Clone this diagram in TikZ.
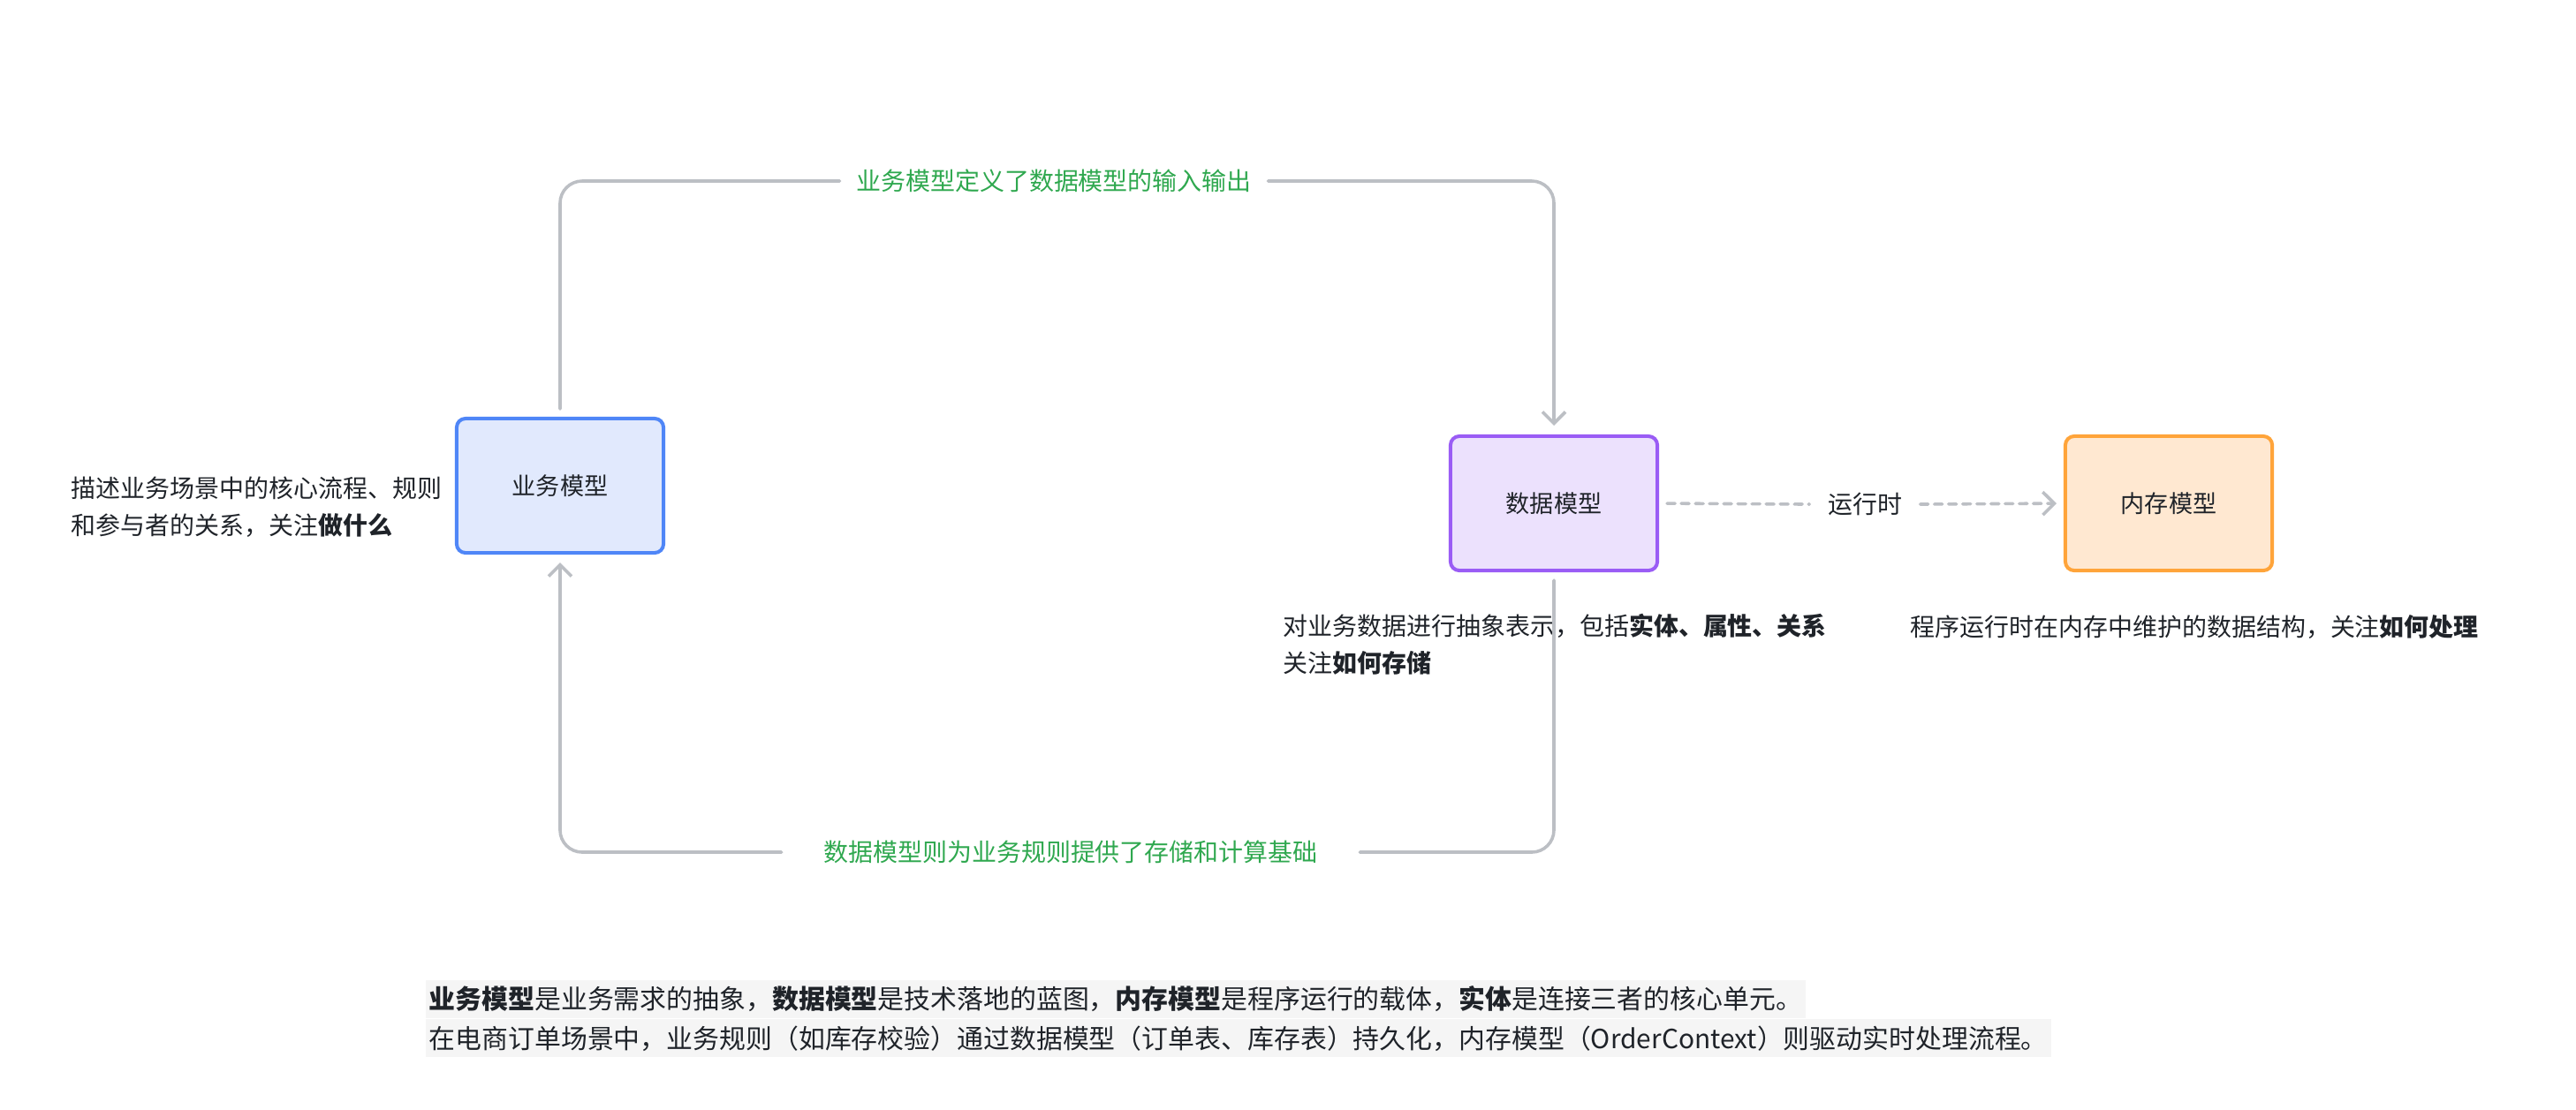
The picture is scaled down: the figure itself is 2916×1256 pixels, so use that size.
\documentclass[tikz,border=0pt]{standalone}
\usepackage{fontspec}
\setmainfont{Noto Sans CJK SC}
\usepackage{tikz}
\usetikzlibrary{arrows.meta,positioning,calc}
\usepackage{xcolor}
\definecolor{bizborder}{HTML}{4F86F7}
\definecolor{bizbg}{HTML}{E1E9FD}
\definecolor{databorder}{HTML}{9A5CF5}
\definecolor{databg}{HTML}{ECE1FD}
\definecolor{memborder}{HTML}{FFA43A}
\definecolor{membg}{HTML}{FFE8D1}
\definecolor{linkgray}{HTML}{BCBFC4}
\definecolor{linkgreen}{HTML}{2FA84F}
\definecolor{inkdark}{HTML}{1F2329}
\definecolor{notebg}{HTML}{F5F5F5}

\begin{document}
\begin{tikzpicture}[
  x=0.01cm, y=-0.01cm,
  text=inkdark,
  >={Straight Barb[length=0.13cm,width=0.26cm]},
  modelbox/.style={
    rounded corners=0.1cm,
    line width=0.04cm,
    minimum width=2.34cm,
    minimum height=1.52cm,
    align=center,
    font=\fontsize{7.7pt}{9pt}\selectfont
  },
  modelarrow/.style={
    ->,
    line width=0.036cm,
    draw=linkgray,
    rounded corners=0.25cm,
    line cap=round
  },
  modellabel/.style={
    fill=white,
    inner ysep=0.05cm,
    text=linkgreen,
    font=\fontsize{7.95pt}{9pt}\selectfont
  },
  modeldesc/.style={
    align=left,
    inner sep=0pt,
    anchor=west,
    font=\fontsize{7.95pt}{11.9pt}\selectfont
  },
  summaryline/.style={
    fill=notebg,
    anchor=west,
    inner xsep=0.04cm,
    inner ysep=0pt,
    minimum height=0.43cm,
    font=\fontsize{8.5pt}{11pt}\selectfont
  }
]
  \useasboundingbox (0,0) rectangle (2916,1256);

  % --- Model boxes ---
  \node[modelbox, draw=bizborder, fill=bizbg] (biz) at (634,550) {业务模型};
  \node[modelbox, draw=databorder, fill=databg] (data) at (1759,570) {数据模型};
  \node[modelbox, draw=memborder, fill=membg] (mem) at (2455,570) {内存模型};

  % --- Descriptions ---
  \node[modeldesc] (bizdesc) at (80,574) {描述业务场景中的核心流程、规则\\和参与者的关系，关注\textbf{做什么}};
  \node[modeldesc] (datadesc) at (1452,730) {对业务数据进行抽象表示，包括\textbf{实体、属性、关系}\\关注\textbf{如何存储}};
  \node[modeldesc] (memdesc) at (2162,710) {程序运行时在内存中维护的数据结构，关注\textbf{如何处理}};

  % --- Loop labels ---
  \node[modellabel, inner xsep=0.18cm] (toplbl) at (1193,205) {业务模型定义了数据模型的输入输出};
  \node[modellabel, inner xsep=0.47cm] (botlbl) at (1212,965) {数据模型则为业务规则提供了存储和计算基础};
  \node[inner xsep=0.2cm, font=\fontsize{7.95pt}{9pt}\selectfont] (runlbl) at (2111,571) {运行时};

  % Connecting Arrows
  \draw[modelarrow, -, shorten <=0.09cm] (biz.north) |- (toplbl.west);
  \draw[modelarrow, shorten >=0.1cm] (toplbl.east) -| (data.north);
  \draw[modelarrow, -, shorten <=0.09cm] (data.south) |- (botlbl.east);
  \draw[modelarrow, shorten >=0.09cm] (botlbl.west) -| (biz.south);
  \draw[modelarrow, -, dash pattern=on 0.09cm off 0.07cm, shorten <=0.09cm] (data.east) -- (runlbl.west);
  \draw[modelarrow, dash pattern=on 0.09cm off 0.07cm, shorten >=0.08cm] (runlbl.east) -- (mem.west);

  % --- Summary ---
  \node[summaryline] (sumone) at (481,1131.5) {\textbf{业务模型}是业务需求的抽象，\textbf{数据模型}是技术落地的蓝图，\textbf{内存模型}是程序运行的载体，\textbf{实体}是连接三者的核心单元。};
  \node[summaryline, below=0pt of sumone.south west, anchor=north west] (sumtwo) {在电商订单场景中，业务规则（如库存校验）通过数据模型（订单表、库存表）持久化，内存模型（OrderContext）则驱动实时处理流程。};

\end{tikzpicture}
\end{document}
